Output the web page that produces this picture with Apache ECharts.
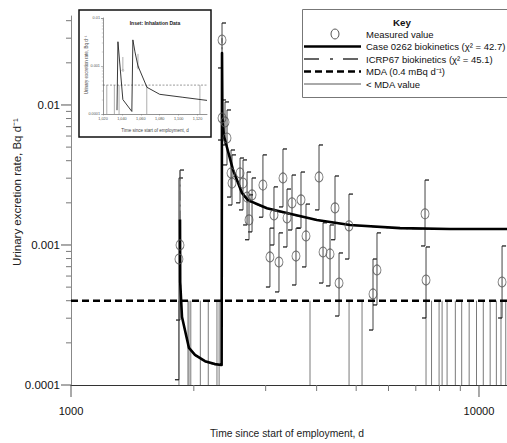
<!DOCTYPE html>
<html><head><meta charset="utf-8">
<script src="https://cdn.jsdelivr.net/npm/echarts@6/dist/echarts.min.js"></script>
<style>html,body{margin:0;padding:0;background:#fff}#c{width:507px;height:443px}</style>
</head><body><div id="c"></div>
<script>
// ---------------- data ----------------
const measuredDays = [1850, 1839, 2345, 2345, 2385, 2412, 2467, 2481, 2596, 2640, 2701, 2778, 2731, 2954, 3144, 3073, 3234, 3308, 3384, 3481, 3560, 3662, 3767, 4054, 4147, 4314, 4437, 4539, 4801, 5498, 5623, 7374, 7416, 11390];
const measuredRate = [0.00100, 0.000794, 0.0291, 0.00807, 0.00756, 0.00581, 0.00327, 0.00277, 0.00327, 0.00277, 0.00220, 0.00228, 0.00151, 0.00268, 0.00164, 0.000821, 0.000756, 0.00301, 0.00156, 0.00200, 0.000834, 0.00210, 0.00116, 0.00306, 0.000891, 0.000863, 0.00184, 0.000535, 0.00137, 0.000447, 0.000663, 0.00167, 0.000562, 0.000544];
const errLow = [0.000291, 0.000109, 0.01838, 0.00562, 0.00518, 0.00373, 0.00220, 0.00193, 0.00200, 0.00178, 0.00139, 0.00124, 0.00109, 0.00158, 0.00100, 0.000501, 0.000462, 0.00187, 0.000968, 0.00128, 0.000518, 0.00132, 0.000697, 0.00178, 0.000535, 0.000510, 0.00109, 0.000311, 0.000794, 0.000247, 0.000373, 0.000984, 0.000301, 0.000301];
const errHigh = [0.00343, 0.00301, 0.0385, 0.01086, 0.01051, 0.00921, 0.00477, 0.00440, 0.00418, 0.00405, 0.00332, 0.00301, 0.00228, 0.00440, 0.00260, 0.00132, 0.00122, 0.00485, 0.00251, 0.00316, 0.00132, 0.00332, 0.00196, 0.00518, 0.00144, 0.00139, 0.00311, 0.000877, 0.00231, 0.000794, 0.00122, 0.00291, 0.000968, 0.000984];

const belowMdaDays = [1839, 1935, 1946, 1966, 2075, 2170, 2279, 2307, 3853, 4803, 5168, 7416, 7650, 7983, 8120, 8352, 8750, 9070, 9460, 9860, 10245, 10650, 11030, 11322, 11630];
const mdaLevel = 0.0004;

const modelDays = [1850, 1852, 1871, 1946, 2013, 2130, 2253, 2340, 2345, 2350, 2371, 2385, 2494, 2625, 2714, 3022, 3380, 4005, 4832, 6405, 8498, 11712];
const modelRate = [0.00152, 0.000544, 0.000306, 0.000184, 0.000164, 0.000148, 0.000141, 0.000139, 0.0235, 0.00807, 0.00591, 0.00562, 0.00345, 0.00235, 0.00209, 0.00183, 0.00169, 0.00151, 0.00139, 0.00132, 0.00130, 0.00130];

const icrpDays = [1850, 1853, 1871, 1946, 2013, 2130, 2253, 2340, 2345, 2352, 2385, 2494, 2625, 2714, 3022, 3380, 4005, 4832, 6405, 8498, 11712];
const icrpRate = [0.0034, 0.0006, 0.000306, 0.000184, 0.000162, 0.000146, 0.000139, 0.000137, 0.0300, 0.0085, 0.0057, 0.0034, 0.0023, 0.00205, 0.00181, 0.00167, 0.00150, 0.00138, 0.00131, 0.00129, 0.00129];

const xMajorTicks = [1000, 10000];
const xMinorTicks = [2000, 3000, 4000, 5000, 6000, 7000, 8000, 9000];
const yMajorTicks = [0.0001, 0.001, 0.01];
const yMinorTicks = [0.0002, 0.0003, 0.0004, 0.0005, 0.0006, 0.0007, 0.0008, 0.0009, 0.002, 0.003, 0.004, 0.005, 0.006, 0.007, 0.008, 0.009, 0.02, 0.03, 0.04];

// inset (inhalation data)
const insetDays = [1034.8, 1035.8, 1041, 1050.5, 1051.6, 1053.8, 1057, 1066.5, 1080, 1104.5, 1130];
const insetRate = [0.00012, 0.0032, 0.0002, 0.000113, 0.0035, 0.00197, 0.001, 0.00036, 0.000257, 0.000223, 0.000192];
const insetBelowMdaDays = [1024, 1032, 1037, 1066.3, 1122.5];
const insetErrDays = [1041, 1057];
const insetErrLow = [0.00078, 0.00085];
const insetErrHigh = [0.00154, 0.00179];
const insetPointRate = [0.00081, 0.00095];

// ---------------- fonts ----------------
function hasFont(name){
  const ctx = document.createElement('canvas').getContext('2d');
  const s = 'Case 0262 biokinetics mmmwwwiii';
  ctx.font = '40px monospace'; const a = ctx.measureText(s).width;
  ctx.font = "40px '" + name + "', monospace"; const b = ctx.measureText(s).width;
  return Math.abs(a - b) > 0.5;
}
const NARROW = hasFont('Liberation Sans Narrow');
const FAM = NARROW ? "'Liberation Sans Narrow', 'Liberation Sans', sans-serif" : "'Liberation Sans', Arial, sans-serif";
const K = NARROW ? 1 : 0.82;
const fs = n => Math.round(n * K * 10) / 10;

const X_MIN = 1000, X_MAX = 11712, Y_MIN = 0.0001, Y_MAX = 0.0432;

function powLabel(v){
  const l = Math.log10(v);
  if (Math.abs(l - Math.round(l)) > 1e-6) return '';
  const e = Math.round(l);
  return e >= 0 ? String(Math.pow(10, e)) : Math.pow(10, e).toFixed(-e);
}

function tickSeries(vals, isX, len, xi, yi, color){
  return {
    type: 'custom', xAxisIndex: xi, yAxisIndex: yi, clip: false, silent: true, z: 5,
    data: vals.map(v => isX ? [v, Y_MIN] : [X_MIN, v]),
    encode: {x: 0, y: 1},
    renderItem: function(params, api){
      const p = api.coord([api.value(0), api.value(1)]);
      const shape = isX ? {x1: p[0], y1: p[1], x2: p[0], y2: p[1] + len} : {x1: p[0] - len, y1: p[1], x2: p[0], y2: p[1]};
      return {type: 'line', shape: shape, style: {stroke: color, lineWidth: 1}};
    }
  };
}

const chart = echarts.init(document.getElementById('c'), null, {renderer: 'svg', width: 507, height: 443});

const legendRows = [34, 46.5, 59, 71.5, 84];
const LX0 = 304, LX1 = 361, LT = 366;

const option = {
  animation: false,
  backgroundColor: '#ffffff',
  grid: [
    {left: 71, top: 16, width: 436, height: 369},
    {left: 103, top: 18, width: 104, height: 96}
  ],
  xAxis: [
    {type: 'log', gridIndex: 0, logBase: 10, min: X_MIN, max: X_MAX,
     axisLine: {lineStyle: {color: '#333', width: 1}},
     axisTick: {show: false}, splitLine: {show: false}, minorTick: {show: false},
     axisLabel: {formatter: powLabel, margin: 20, color: '#111', fontFamily: FAM, fontSize: fs(13.5), showMaxLabel: false}},
    {type: 'value', gridIndex: 1, min: 1020, max: 1130, interval: 20,
     axisLine: {onZero: false, lineStyle: {color: '#777', width: 0.8}},
     axisTick: {length: 1.5, lineStyle: {color: '#777', width: 0.5}},
     splitLine: {show: false},
     axisLabel: {margin: 3, color: '#555', fontFamily: FAM, fontSize: 3.8, showMaxLabel: false}}
  ],
  yAxis: [
    {type: 'log', gridIndex: 0, logBase: 10, min: Y_MIN, max: Y_MAX,
     axisLine: {show: true, lineStyle: {color: '#888', width: 1}},
     axisTick: {show: false}, splitLine: {show: false}, minorTick: {show: false},
     axisLabel: {formatter: powLabel, margin: 11, color: '#111', fontFamily: FAM, fontSize: fs(14), showMaxLabel: false}},
    {type: 'log', gridIndex: 1, logBase: 10, min: 0.0001, max: 0.01,
     axisLine: {show: true, lineStyle: {color: '#777', width: 0.8}},
     axisTick: {length: 2, lineStyle: {color: '#777', width: 0.5}},
     minorTick: {show: true, splitNumber: 9, length: 1.2, lineStyle: {color: '#888', width: 0.4}},
     splitLine: {show: false},
     axisLabel: {formatter: powLabel, margin: 3, color: '#555', fontFamily: FAM, fontSize: 3.8}}
  ],
  series: [
    // < MDA values
    {type: 'custom', xAxisIndex: 0, yAxisIndex: 0, z: 2, silent: true,
     data: belowMdaDays.map(d => [d, mdaLevel]),
     encode: {x: 0, y: 1},
     renderItem: function(params, api){
       const a = api.coord([api.value(0), api.value(1)]);
       const b = api.coord([api.value(0), Y_MIN]);
       return {type: 'line', shape: {x1: a[0], y1: a[1], x2: b[0], y2: b[1]}, style: {stroke: '#7a7a7a', lineWidth: 1}};
     }},
    // error bars
    {type: 'custom', xAxisIndex: 0, yAxisIndex: 0, z: 3, silent: true,
     data: measuredDays.map((d, i) => [d, errLow[i], errHigh[i]]),
     encode: {x: 0, y: [1, 2]},
     renderItem: function(params, api){
       const lo = api.coord([api.value(0), api.value(1)]);
       const hi = api.coord([api.value(0), api.value(2)]);
       return {type: 'group', children: [
         {type: 'line', shape: {x1: lo[0], y1: lo[1], x2: hi[0], y2: hi[1]}, style: {stroke: '#444', lineWidth: 1}},
         {type: 'line', shape: {x1: hi[0], y1: hi[1], x2: hi[0] + 4, y2: hi[1]}, style: {stroke: '#111', lineWidth: 1.2}},
         {type: 'line', shape: {x1: lo[0] - 4, y1: lo[1], x2: lo[0], y2: lo[1]}, style: {stroke: '#111', lineWidth: 1.2}}
       ]};
     }},
    // ICRP67
    {name: 'ICRP67', type: 'line', xAxisIndex: 0, yAxisIndex: 0, z: 4, symbol: 'none', silent: true,
     data: icrpDays.map((d, i) => [d, icrpRate[i]]),
     lineStyle: {color: '#666', width: 1, type: [10, 4, 2, 4]}},
    // model
    {name: 'Case 0262', type: 'line', xAxisIndex: 0, yAxisIndex: 0, z: 5, symbol: 'none', silent: true,
     data: modelDays.map((d, i) => [d, modelRate[i]]),
     lineStyle: {color: '#000', width: 2.6, join: 'round'}},
    // MDA
    {name: 'MDA', type: 'line', xAxisIndex: 0, yAxisIndex: 0, z: 6, symbol: 'none', silent: true,
     data: [[X_MIN, mdaLevel], [X_MAX, mdaLevel]],
     lineStyle: {color: '#000', width: 2.4, type: [7, 4]}},
    // measured
    {name: 'Measured', type: 'scatter', xAxisIndex: 0, yAxisIndex: 0, z: 7, silent: true,
     data: measuredDays.map((d, i) => [d, measuredRate[i]]),
     symbol: 'circle', symbolSize: [8, 10],
     itemStyle: {color: 'rgba(255,255,255,0)', borderColor: '#555', borderWidth: 1}},
    // ticks
    tickSeries(xMajorTicks, true, 12, 0, 0, '#555'),
    tickSeries(xMinorTicks, true, 6, 0, 0, '#777'),
    tickSeries(yMajorTicks, false, 10, 0, 0, '#555'),
    tickSeries(yMinorTicks, false, 5, 0, 0, '#777'),
    // inset series
    {type: 'custom', xAxisIndex: 1, yAxisIndex: 1, z: 2, silent: true,
     data: insetBelowMdaDays.map(d => [d, mdaLevel]),
     encode: {x: 0, y: 1},
     renderItem: function(params, api){
       const a = api.coord([api.value(0), api.value(1)]);
       const b = api.coord([api.value(0), 0.0001]);
       return {type: 'line', shape: {x1: a[0], y1: a[1], x2: b[0], y2: b[1]}, style: {stroke: '#999', lineWidth: 0.8}};
     }},
    {type: 'custom', xAxisIndex: 1, yAxisIndex: 1, z: 3, silent: true,
     data: insetErrDays.map((d, i) => [d, insetErrLow[i], insetErrHigh[i]]),
     encode: {x: 0, y: [1, 2]},
     renderItem: function(params, api){
       const lo = api.coord([api.value(0), api.value(1)]);
       const hi = api.coord([api.value(0), api.value(2)]);
       return {type: 'line', shape: {x1: lo[0], y1: lo[1], x2: hi[0], y2: hi[1]}, style: {stroke: '#999', lineWidth: 0.8}};
     }},
    {type: 'scatter', xAxisIndex: 1, yAxisIndex: 1, z: 4, silent: true,
     data: insetErrDays.map((d, i) => [d, insetPointRate[i]]),
     symbol: 'circle', symbolSize: 2, itemStyle: {color: 'rgba(255,255,255,0)', borderColor: '#999', borderWidth: 0.5}},
    {type: 'line', xAxisIndex: 1, yAxisIndex: 1, z: 4, symbol: 'none', silent: true,
     data: [[1020, mdaLevel], [1130, mdaLevel]],
     lineStyle: {color: '#555', width: 0.6, type: [2, 1.5]}},
    {type: 'line', xAxisIndex: 1, yAxisIndex: 1, z: 5, symbol: 'none', silent: true,
     data: insetDays.map((d, i) => [d, insetRate[i]]),
     lineStyle: {color: '#222', width: 0.9}}
  ],
  graphic: [
    // axis titles
    {type: 'text', x: 287, y: 433, silent: true,
     style: {text: 'Time since start of employment, d', fontFamily: FAM, fontSize: fs(12.5), fill: '#222', align: 'center', verticalAlign: 'middle'}},
    {type: 'text', x: 17, y: 192, rotation: Math.PI / 2, silent: true,
     style: {text: 'Urinary excretion rate, Bq d\u207B\u00B9', fontFamily: FAM, fontSize: fs(14), fill: '#222', align: 'center', verticalAlign: 'middle'}},
    // inset frame & texts
    {type: 'rect', shape: {x: 79, y: 10, width: 132, height: 127}, silent: true,
     style: {fill: 'none', stroke: '#111', lineWidth: 1.5}},
    {type: 'text', x: 155, y: 23, silent: true,
     style: {text: 'Inset: Inhalation Data', fontFamily: FAM, fontWeight: 'bold', fontSize: 5, fill: '#222', align: 'center', verticalAlign: 'middle'}},
    {type: 'text', x: 155, y: 130.5, silent: true,
     style: {text: 'Time since start of employment, d', fontFamily: FAM, fontSize: 4.5, fill: '#444', align: 'center', verticalAlign: 'middle'}},
    {type: 'text', x: 86, y: 65, rotation: Math.PI / 2, silent: true,
     style: {text: 'Urinary excretion rate, Bq d\u207B\u00B9', fontFamily: FAM, fontSize: 4.5, fill: '#444', align: 'center', verticalAlign: 'middle'}},
    // legend (key)
    {type: 'rect', shape: {x: 302.5, y: 9.5, width: 220, height: 88}, silent: true,
     style: {fill: '#fff', stroke: '#777', lineWidth: 1}},
    {type: 'text', x: 402, y: 22.5, silent: true,
     style: {text: 'Key', fontFamily: FAM, fontWeight: 'bold', fontSize: fs(12), fill: '#111', align: 'center', verticalAlign: 'middle'}},
    {type: 'ellipse', shape: {cx: 335, cy: legendRows[0], rx: 4, ry: 5}, silent: true,
     style: {fill: 'none', stroke: '#555', lineWidth: 1}},
    {type: 'line', shape: {x1: LX0, y1: legendRows[1], x2: LX1, y2: legendRows[1]}, silent: true,
     style: {stroke: '#000', lineWidth: 2.6}},
    {type: 'line', shape: {x1: LX0, y1: legendRows[2], x2: LX1, y2: legendRows[2]}, silent: true,
     style: {stroke: '#333', lineWidth: 1.5, lineDash: [15, 11, 3, 10]}},
    {type: 'line', shape: {x1: LX0, y1: legendRows[3], x2: LX1, y2: legendRows[3]}, silent: true,
     style: {stroke: '#000', lineWidth: 2.4, lineDash: [7, 4]}},
    {type: 'line', shape: {x1: LX0, y1: legendRows[4], x2: LX1, y2: legendRows[4]}, silent: true,
     style: {stroke: '#555', lineWidth: 1}},
    {type: 'text', x: LT, y: legendRows[0], silent: true,
     style: {text: 'Measured value', fontFamily: FAM, fontSize: fs(11.6), fill: '#111', align: 'left', verticalAlign: 'middle'}},
    {type: 'text', x: LT, y: legendRows[1], silent: true,
     style: {text: 'Case 0262 biokinetics (\u03C7\u00B2 = 42.7)', fontFamily: FAM, fontSize: fs(11.6), fill: '#111', align: 'left', verticalAlign: 'middle'}},
    {type: 'text', x: LT, y: legendRows[2], silent: true,
     style: {text: 'ICRP67 biokinetics (\u03C7\u00B2 = 45.1)', fontFamily: FAM, fontSize: fs(11.6), fill: '#111', align: 'left', verticalAlign: 'middle'}},
    {type: 'text', x: LT, y: legendRows[3], silent: true,
     style: {text: 'MDA (0.4 mBq d\u207B\u00B9)', fontFamily: FAM, fontSize: fs(11.6), fill: '#111', align: 'left', verticalAlign: 'middle'}},
    {type: 'text', x: LT, y: legendRows[4], silent: true,
     style: {text: '< MDA value', fontFamily: FAM, fontSize: fs(11.6), fill: '#111', align: 'left', verticalAlign: 'middle'}}
  ]
};
chart.setOption(option);
</script>
</body></html>
